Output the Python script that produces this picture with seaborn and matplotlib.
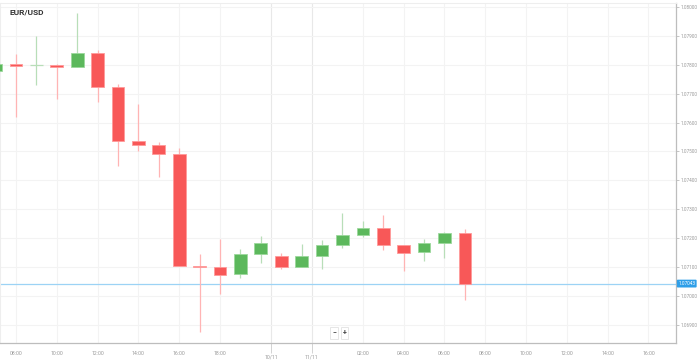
import numpy as np
import pandas as pd
import matplotlib
matplotlib.use("Agg")
import matplotlib.pyplot as plt
import seaborn as sns

OUTPUT = "out.png"

# hourly candles, index 0 = 08:00
candle_idx = list(range(-1, 23))
opens = [1.07779, 1.07802, 1.07798, 1.07798, 1.07791, 1.07840, 1.07722, 1.07536,
         1.07522, 1.07490, 1.07105, 1.07099, 1.07075, 1.07144, 1.07137, 1.07099,
         1.07137, 1.07175, 1.07210, 1.07235, 1.07175, 1.07151, 1.07182, 1.07217]
highs = [1.07806, 1.07837, 1.07900, 1.07803, 1.07980, 1.07851, 1.07734, 1.07664,
         1.07534, 1.07511, 1.07144, 1.07197, 1.07163, 1.07208, 1.07148, 1.07180,
         1.07194, 1.07287, 1.07261, 1.07280, 1.07175, 1.07196, 1.07223, 1.07231]
lows = [1.07775, 1.07619, 1.07730, 1.07682, 1.07791, 1.07672, 1.07451, 1.07503,
        1.07411, 1.07104, 1.06877, 1.07008, 1.07063, 1.07115, 1.07092, 1.07099,
        1.07095, 1.07165, 1.07205, 1.07159, 1.07088, 1.07121, 1.07133, 1.06987]
closes = [1.07803, 1.07795, 1.07798, 1.07791, 1.07840, 1.07724, 1.07536, 1.07522,
          1.07491, 1.07104, 1.07099, 1.07074, 1.07146, 1.07184, 1.07099, 1.07137,
          1.07175, 1.07211, 1.07234, 1.07175, 1.07150, 1.07182, 1.07217, 1.07043]
last_price = 1.07043

time_ticks = [0, 2, 4, 6, 8, 10, 17, 19, 21, 23, 25, 27, 29, 31]
time_labels = ["08:00", "10:00", "12:00", "14:00", "16:00", "18:00", "02:00",
               "04:00", "06:00", "08:00", "10:00", "12:00", "14:00", "16:00"]
date_ticks = [12.5, 14.5]
date_labels = ["10/11", "11/11"]
price_ticks = [1.069, 1.070, 1.071, 1.072, 1.073, 1.074, 1.075, 1.076,
               1.077, 1.078, 1.079, 1.080]

RED = "#F85858"
RED_EDGE = "#FF9A9A"
RED_WICK = "#FFB4B4"
GREEN = "#5CB85C"
GREEN_EDGE = "#9CD89C"
GREEN_WICK = "#B8DEB8"
GRID = "#F3F3F3"
TXT = "#9A9A9A"
LS = 3.7
YLS = 3.4


def main():
    sns.set_theme(style="white")
    plt.rcParams['font.family'] = ['Roboto', 'DejaVu Sans']

    df = pd.DataFrame({"i": candle_idx, "open": opens, "high": highs,
                       "low": lows, "close": closes})
    df["up"] = df["close"] >= df["open"]

    fig = plt.figure(figsize=(6.99, 3.62), dpi=100)
    ax = fig.add_axes([0.0, 19 / 362, 676 / 699, 340 / 362])

    # grid
    for t in time_ticks:
        ax.axvline(t, color=GRID, lw=0.8, zorder=0)
    for t in date_ticks:
        ax.axvline(t, color="#E8E8E8", lw=0.8, zorder=0)
    for p in price_ticks:
        ax.axhline(p, color=GRID, lw=0.8, zorder=0)

    w = 0.62
    for _, r in df.iterrows():
        col, edge, wick = (GREEN, GREEN_EDGE, GREEN_WICK) if r["up"] else (RED, RED_EDGE, RED_WICK)
        ax.vlines(r["i"], r["low"], r["high"], color=wick, lw=0.9, zorder=2)
        lo = min(r["open"], r["close"])
        h = abs(r["close"] - r["open"])
        if h < 1e-6:
            ax.hlines(r["open"], r["i"] - w / 2, r["i"] + w / 2, color=wick, lw=0.9, zorder=3)
        else:
            h = max(h, 0.00006)
            ax.bar(r["i"], h, bottom=lo, width=w, color=col, edgecolor=edge,
                   linewidth=0.6, zorder=3)

    # last price line
    ax.axhline(last_price, color="#9CD3F5", lw=0.9, zorder=1)

    ax.set_xlim(-0.784, 32.35)
    ax.set_ylim(1.068374, 1.080138)

    ax.yaxis.tick_right()
    ax.set_yticks(price_ticks)
    ax.set_yticklabels([f"{p:.5f}" for p in price_ticks])
    ax.set_xticks(time_ticks)
    ax.set_xticklabels(time_labels)
    ax.set_xticks(date_ticks, minor=True)
    ax.set_xticklabels(date_labels, minor=True)
    ax.tick_params(axis="x", which="major", length=3, width=0.6, color="#BBBBBB",
                   pad=3, labelsize=LS, labelcolor=TXT)
    ax.tick_params(axis="x", which="minor", length=7, width=0.6, color="#CCCCCC",
                   pad=1.5, labelsize=LS, labelcolor=TXT, bottom=True)
    ax.tick_params(axis="y", which="major", length=2.2, width=0.6, color="#BBBBBB",
                   pad=1.0, labelsize=YLS, labelcolor=TXT, right=True, left=False)
    for tl in ax.xaxis.get_minorticklines():
        tl.set_linestyle((0, (1.5, 1.2)))

    for s in ["left", "top"]:
        ax.spines[s].set_color("#EEEEEE")
        ax.spines[s].set_linewidth(0.8)
    for s in ["right", "bottom"]:
        ax.spines[s].set_color("#BDBDBD")
        ax.spines[s].set_linewidth(0.9)

    # last price tag
    ax.annotate(f"{last_price:.5f}", xy=(1.0, last_price), xycoords=("axes fraction", "data"),
                xytext=(1.6, 0), textcoords="offset points", va="center", ha="left",
                fontsize=YLS, color="white",
                bbox=dict(boxstyle="round,pad=0.3,rounding_size=0.2", fc="#2F9FE8", ec="none"))

    fig.text(10 / 699, 1 - 12 / 362, "EUR/USD", fontsize=6, fontweight="bold",
             color="#333333", va="center", ha="left")

    # zoom buttons
    for xp, lab in [(334 / 699, "\u2212"), (344.5 / 699, "+")]:
        fig.text(xp, 1 - 333 / 362, lab, fontsize=5, fontweight="bold", color="#444444",
                 ha="center", va="center",
                 bbox=dict(boxstyle="square,pad=0.3", fc="white", ec="#E2E2E2", lw=0.6))

    plt.savefig(OUTPUT, dpi=100)


if __name__ == "__main__":
    main()
